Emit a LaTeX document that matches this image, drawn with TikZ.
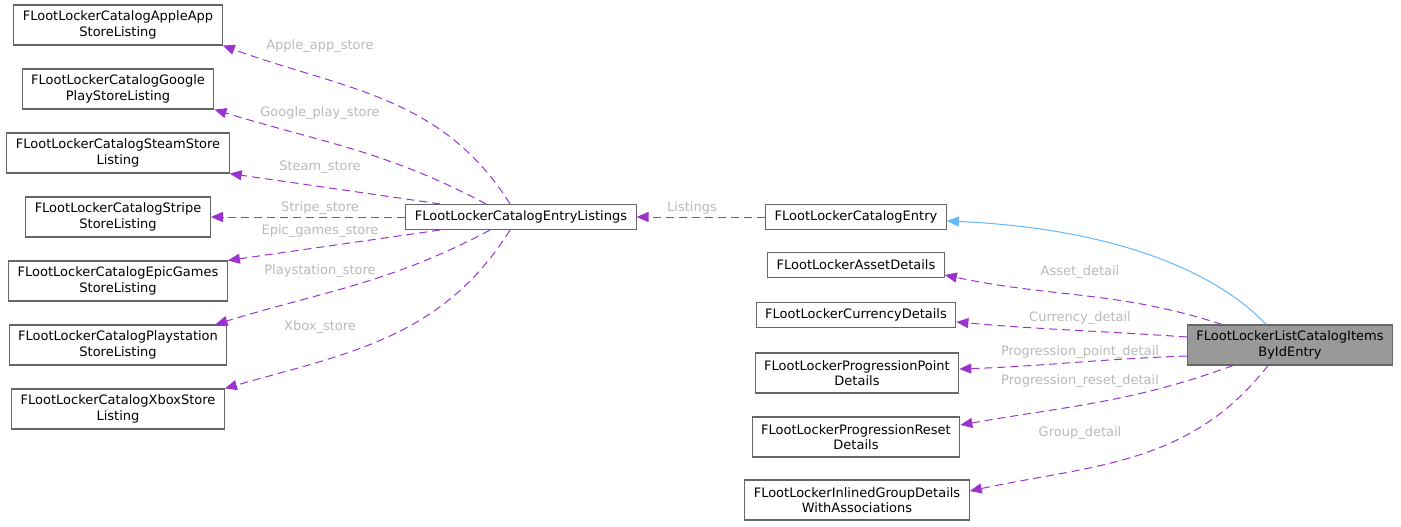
\documentclass[tikz,border=0pt]{standalone}
\usepackage{fontspec}
\setmainfont{DejaVu Sans}
\usetikzlibrary{arrows.meta}
\definecolor{edgepurple}{RGB}{154,50,205}
\definecolor{edgeblue}{RGB}{99,184,255}
\definecolor{lblgray}{RGB}{185,185,185}
\definecolor{boxgray}{RGB}{102,102,102}
\tikzset{
  cls/.style={draw=boxgray, line width=1.1pt, fill=white, align=center, inner xsep=9pt, inner ysep=2pt, font=\fontsize{13}{15.5}\selectfont},
  onerow/.style={cls, minimum height=25pt},
  tworow/.style={cls, minimum height=40pt},
  member/.style={draw=edgepurple, line width=1pt, dash pattern=on 8pt off 5pt, -{Triangle[length=12pt,width=10pt]}},
  inherit/.style={draw=edgeblue, line width=1pt, -{Triangle[length=12pt,width=10pt]}},
  lbl/.style={text=lblgray, inner sep=1pt, font=\fontsize{13}{15.5}\selectfont}
}
\begin{document}
\begin{tikzpicture}[x=1pt,y=1pt]
    \useasboundingbox (0,0) rectangle (1401,-527);

    \node[tworow] (apple) at (118,-25) {FLootLockerCatalogAppleApp\\StoreListing};
    \node[tworow] (google) at (118,-89) {FLootLockerCatalogGoogle\\PlayStoreListing};
    \node[tworow] (steam) at (118,-153) {FLootLockerCatalogSteamStore\\Listing};
    \node[tworow] (stripe) at (118,-217) {FLootLockerCatalogStripe\\StoreListing};
    \node[tworow] (epic) at (118,-281) {FLootLockerCatalogEpicGames\\StoreListing};
    \node[tworow] (playstation) at (118,-345) {FLootLockerCatalogPlaystation\\StoreListing};
    \node[tworow] (xbox) at (118,-409) {FLootLockerCatalogXboxStore\\Listing};

    \node[onerow] (listings) at (521,-217) {FLootLockerCatalogEntryListings};

    \node[onerow] (catentry) at (856,-217) {FLootLockerCatalogEntry};
    \node[onerow] (asset) at (856,-265) {FLootLockerAssetDetails};
    \node[onerow] (currency) at (856,-315) {FLootLockerCurrencyDetails};
    \node[tworow] (progpoint) at (857,-373) {FLootLockerProgressionPoint\\Details};
    \node[tworow] (progreset) at (856,-437) {FLootLockerProgressionReset\\Details};
    \node[tworow] (inlined) at (857,-500) {FLootLockerInlinedGroupDetails\\WithAssociations};

    \node[tworow, fill={rgb,255:red,153;green,153;blue,153}] (listbyid) at (1290,-345) {FLootLockerListCatalogItems\\ByIdEntry};

    % edges from the entry
    \draw[inherit] ([xshift=-24pt]listbyid.north) .. controls (1215,-270) and (1110,-228) .. ([yshift=-4pt]catentry.east);
    \draw[member] ([xshift=-68pt]listbyid.north) to[out=162,in=-12] ([yshift=-10pt]asset.east);
    \draw[member] ([yshift=8pt]listbyid.west) to[out=176,in=-5] ([yshift=-7pt]currency.east);
    \draw[member] ([yshift=-11pt]listbyid.west) to[out=182,in=2] ([yshift=4pt]progpoint.east);
    \draw[member] ([xshift=-57pt]listbyid.south) to[out=-160,in=10] ([yshift=12pt]progreset.east);
    \draw[member] ([xshift=-22pt]listbyid.south) to[out=-128,in=12] ([yshift=9pt]inlined.east);

    \draw[member] (catentry.west) -- (listings.east);

    % edges from the listings
    \draw[member] ([xshift=-11pt]listings.north) to[out=122,in=-20] (apple.south east);
    \draw[member] ([xshift=-35pt]listings.north) to[out=152,in=-17] (google.south east);
    \draw[member] ([xshift=-81pt]listings.north) -- (steam.south east);
    \draw[member] (listings.west) -- (stripe.east);
    \draw[member] ([xshift=-81pt]listings.south) -- (epic.north east);
    \draw[member] ([xshift=-31pt]listings.south) to[out=-152,in=17] ([xshift=-12pt]playstation.north east);
    \draw[member] ([xshift=-11pt]listings.south) to[out=-122,in=16] (xbox.north east);

    \node[lbl] (lapple) at (320,-46) {Apple\_app\_store};
    \node[lbl] (lgoogle) at (320,-113) {Google\_play\_store};
    \node[lbl] (lsteam) at (320,-167) {Steam\_store};
    \node[lbl] (lstripe) at (320,-208) {Stripe\_store};
    \node[lbl] (lepic) at (320,-231) {Epic\_games\_store};
    \node[lbl] (lplay) at (320,-271) {Playstation\_store};
    \node[lbl] (lxbox) at (320,-327) {Xbox\_store};
    \node[lbl] (llistings) at (692,-208) {Listings};
    \node[lbl] (lasset) at (1080,-272) {Asset\_detail};
    \node[lbl] (lcurrency) at (1080,-318) {Currency\_detail};
    \node[lbl] (lpoint) at (1080,-352) {Progression\_point\_detail};
    \node[lbl] (lreset) at (1080,-381) {Progression\_reset\_detail};
    \node[lbl] (lgroup) at (1080,-433) {Group\_detail};
\end{tikzpicture}
\end{document}
